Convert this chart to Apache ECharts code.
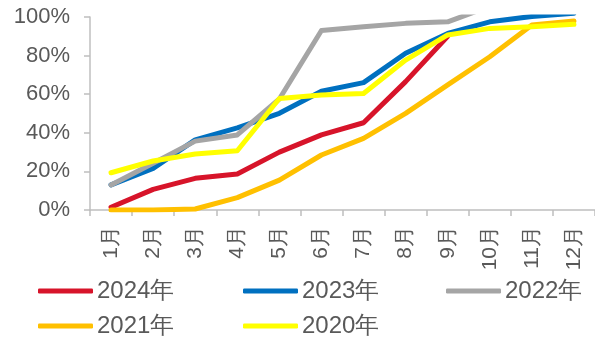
<!DOCTYPE html>
<html><head><meta charset="utf-8">
<script src="https://cdn.jsdelivr.net/npm/echarts@6/dist/echarts.min.js"></script>
<style>html,body{margin:0;padding:0;background:#fff}#c{width:595px;height:342px}</style>
</head><body><div id="c"></div>
<script>
var categories = ['1月','2月','3月','4月','5月','6月','7月','8月','9月','10月','11月','12月'];
var yTicks = [0, 20, 40, 60, 80, 100];
var s2024 = [1.4, 10.7, 16.4, 18.7, 30.0, 38.9, 45.2, 66.5, 90.0, null, null, null];
var s2023 = [13.0, 21.6, 36.3, 42.6, 50.1, 61.5, 66.0, 81.2, 91.5, 97.5, 100.3, 102];
var s2022 = [13.0, 24.2, 35.7, 38.9, 57.5, 93.0, 95.0, 96.7, 97.5, 105.5, 108, 110];
var s2021 = [0, 0, 0.5, 6.4, 15.5, 28.5, 37.1, 50.1, 64.8, 79.4, 95.8, 97.9];
var s2020 = [19.3, 25.4, 29.0, 30.7, 57.8, 59.6, 60.4, 77.7, 90.7, 94.1, 95.0, 96.2];
var names = ['2024年','2023年','2022年','2021年','2020年'];
var colors = ['#D7142A','#0070C0','#A5A5A5','#FFC000','#FFFF00'];
var datas = [s2024, s2023, s2022, s2021, s2020];

var font = 'Arial, "Liberation Sans", sans-serif';
var legendPos = [[38,279],[243,279],[446,279],[38,314],[243,314]];
var series = names.map(function(n,i){
  return {name:n, type:'line', data:datas[i], symbol:'none', clip:true,
    lineStyle:{color:colors[i], width:5, cap:'round', join:'round'}, itemStyle:{color:colors[i]}};
});
var legends = names.map(function(n,i){
  return {show:true, orient:'horizontal', data:[{name:n, icon:'roundRect', itemStyle:{color:colors[i]}}],
    left:legendPos[i][0], top:legendPos[i][1], itemWidth:55, itemHeight:5, itemGap:0,
    padding:0,
    textStyle:{fontSize:24, color:'#595959', fontFamily:font, padding:[0,0,0,-1]}};
});
var chart = echarts.init(document.getElementById('c'));
chart.setOption({
  animation:false,
  grid:{left:90, top:17, width:508, height:193, containLabel:false},
  legend:legends,
  xAxis:{type:'category', data:categories, boundaryGap:true,
    axisLine:{lineStyle:{color:'#BFBFBF', width:1.5}},
    axisTick:{show:true, length:6, lineStyle:{color:'#BFBFBF', width:1.5}},
    axisLabel:{rotate:90, margin:16, fontSize:21, color:'#595959', fontFamily:font, interval:0}},
  yAxis:{type:'value', min:yTicks[0], max:yTicks[yTicks.length-1], interval:20,
    axisLine:{show:true, lineStyle:{color:'#BFBFBF', width:1.5}},
    axisTick:{show:true, length:6, lineStyle:{color:'#BFBFBF', width:1.5}},
    splitLine:{show:false},
    axisLabel:{formatter:'{value}%', margin:20, fontSize:22, color:'#595959', fontFamily:font}},
  series:series
});
</script></body></html>
